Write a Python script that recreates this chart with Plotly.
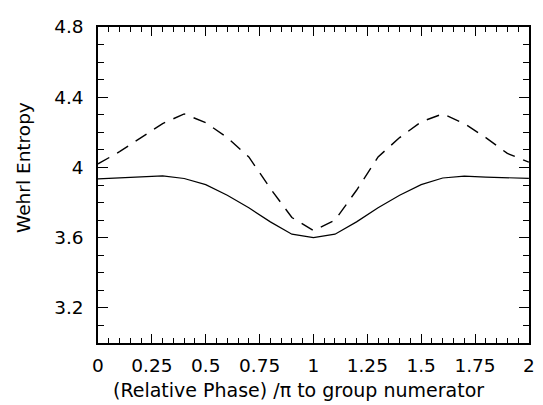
import plotly.graph_objects as go

phase = [0.0, 0.1, 0.2, 0.3, 0.4, 0.5, 0.6, 0.7, 0.8, 0.9, 1.0,
         1.1, 1.2, 1.3, 1.4, 1.5, 1.6, 1.7, 1.8, 1.9, 2.0]
solid_entropy = [3.935, 3.940, 3.948, 3.952, 3.937, 3.902, 3.842, 3.770, 3.690, 3.620, 3.600,
                 3.620, 3.690, 3.770, 3.842, 3.902, 3.940, 3.950, 3.945, 3.940, 3.938]
dashed_entropy = [4.020, 4.090, 4.170, 4.250, 4.305, 4.255, 4.170, 4.060, 3.880, 3.715, 3.640,
                  3.700, 3.870, 4.060, 4.170, 4.260, 4.305, 4.250, 4.170, 4.080, 4.030]

x_ticks = [0, 0.25, 0.5, 0.75, 1, 1.25, 1.5, 1.75, 2]
x_labels = ["0", "0.25", "0.5", "0.75", "1", "1.25", "1.5", "1.75", "2"]
y_ticks = [3.2, 3.6, 4.0, 4.4, 4.8]
y_labels = ["3.2", "3.6", "4", "4.4", "4.8"]
x_title = "(Relative Phase) /π to group numerator"
y_title = "Wehrl Entropy"

fig = go.Figure()
fig.add_trace(go.Scatter(x=phase, y=dashed_entropy, mode="lines",
                         line=dict(color="black", width=1.4, dash="13px,9px"),
                         showlegend=False))
fig.add_trace(go.Scatter(x=phase, y=solid_entropy, mode="lines",
                         line=dict(color="black", width=1.2),
                         showlegend=False))

font = dict(family="DejaVu Sans", size=18.5, color="black")
fig.update_layout(
    width=535, height=397,
    margin=dict(l=90, r=8, t=10, b=62),
    paper_bgcolor="white", plot_bgcolor="white",
    font=font,
    xaxis=dict(range=[0, 2.0005], tickvals=x_ticks, ticktext=x_labels,
               ticks="inside", ticklen=9, tickwidth=1.2, tickcolor="black",
               showline=True, linecolor="black", linewidth=1.5, mirror="ticks",
               showgrid=False, zeroline=False, ticklabelstandoff=5,
               ticklabeloverflow="allow",
               minor=dict(dtick=0.05, tick0=0, ticks="inside", ticklen=5, tickwidth=1, tickcolor="black", showgrid=False),
               tickfont=font),
    yaxis=dict(range=[3.0, 4.8], tickvals=y_ticks, ticktext=y_labels,
               ticks="inside", ticklen=10, tickwidth=1.2, tickcolor="black",
               showline=True, linecolor="black", linewidth=1.5, mirror="ticks",
               showgrid=False, zeroline=False, ticklabelstandoff=9,
               ticklabeloverflow="allow",
               minor=dict(dtick=0.1, tick0=3.0, ticks="inside", ticklen=6, tickwidth=1, tickcolor="black", showgrid=False),
               tickfont=font),
    annotations=[
        dict(text=x_title, xref="paper", yref="paper", x=0.5, y=0,
             xanchor="center", yanchor="middle", xshift=-15, yshift=-47,
             showarrow=False, font=dict(family="DejaVu Sans", size=19, color="black")),
        dict(text=y_title, xref="paper", yref="paper", x=0, y=0.5,
             xanchor="center", yanchor="middle", xshift=-75, yshift=17,
             textangle=-90, showarrow=False, font=font),
    ],
)
fig.write_html("out.html")
